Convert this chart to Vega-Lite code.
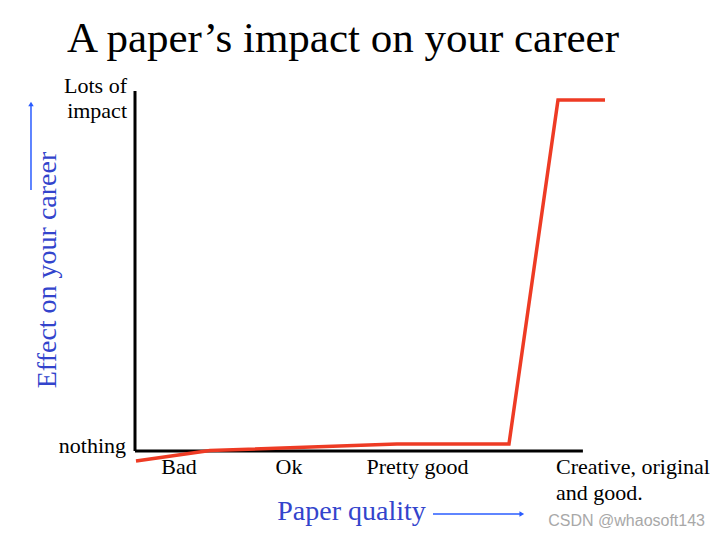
{
  "$schema": "https://vega.github.io/schema/vega-lite/v6.json",
  "width": 470,
  "height": 351,
  "autosize": {"type": "none"},
  "padding": {"left": 135, "top": 100, "right": 115, "bottom": 86},
  "background": "white",
  "config": {"view": {"stroke": null}},
  "datasets": {
    "curve": [
      {"q": 0.021, "impact": -2.85},
      {"q": 1.596, "impact": 0.14},
      {"q": 5.574, "impact": 1.99},
      {"q": 7.957, "impact": 1.99},
      {"q": 9.0, "impact": 100},
      {"q": 10.0, "impact": 100}
    ],
    "axes": [
      {"x": 0, "x2": 0, "y": 0, "y2": 102.56},
      {"x": 0, "x2": 9.53, "y": 0, "y2": 0}
    ],
    "title": [{"x": -1.447, "y": 113.76, "text": "A paper’s impact on your career"}],
    "ylabels": [
      {"x": -0.17, "y": 101.9, "text": "Lots of"},
      {"x": -0.17, "y": 94.96, "text": "impact"},
      {"x": -0.19, "y": -0.43, "text": "nothing"}
    ],
    "xlabels": [
      {"x": 0.936, "y": -6.55, "text": "Bad"},
      {"x": 3.277, "y": -6.55, "text": "Ok"},
      {"x": 6.011, "y": -6.55, "text": "Pretty good"}
    ],
    "xlabelsLeft": [
      {"x": 8.957, "y": -6.55, "text": "Creative, original"},
      {"x": 8.957, "y": -13.96, "text": "and good."}
    ],
    "xtitle": [{"x": 4.606, "y": -19.66, "text": "Paper quality"}],
    "ytitle": [{"x": -1.681, "y": 51.57, "text": "Effect on your career"}],
    "arrowLines": [
      {"x": 6.34, "x2": 8.2, "y": -17.95, "y2": -17.95},
      {"x": -2.213, "x2": -2.213, "y": 74.36, "y2": 98.5}
    ],
    "arrowHeadsRight": [{"x": 8.23, "y": -17.95}],
    "arrowHeadsUp": [{"x": -2.213, "y": 98.86}],
    "watermark": [{"x": 12.128, "y": -21.37, "text": "CSDN @whaosoft143"}]
  },
  "layer": [
    {
      "data": {"name": "axes"},
      "mark": {"type": "rule", "color": "black", "strokeWidth": 3},
      "encoding": {
        "x": {"field": "x", "type": "quantitative", "scale": {"domain": [0, 10], "nice": false, "zero": false}, "axis": null},
        "x2": {"field": "x2"},
        "y": {"field": "y", "type": "quantitative", "scale": {"domain": [0, 100], "nice": false, "zero": false}, "axis": null},
        "y2": {"field": "y2"}
      }
    },
    {
      "data": {"name": "curve"},
      "mark": {"type": "line", "color": "#ee3b24", "strokeWidth": 3.5, "strokeJoin": "miter"},
      "encoding": {
        "x": {"field": "q", "type": "quantitative", "scale": {"domain": [0, 10], "nice": false, "zero": false}, "axis": null},
        "y": {"field": "impact", "type": "quantitative", "scale": {"domain": [0, 100], "nice": false, "zero": false}, "axis": null},
        "order": {"field": "q"}
      }
    },
    {
      "data": {"name": "title"},
      "mark": {"type": "text", "font": "Liberation Serif", "fontSize": 43, "align": "left", "baseline": "alphabetic", "color": "black"},
      "encoding": {
        "x": {"field": "x", "type": "quantitative", "scale": {"domain": [0, 10], "nice": false, "zero": false}, "axis": null},
        "y": {"field": "y", "type": "quantitative", "scale": {"domain": [0, 100], "nice": false, "zero": false}, "axis": null},
        "text": {"field": "text"}
      }
    },
    {
      "data": {"name": "ylabels"},
      "mark": {"type": "text", "font": "Liberation Serif", "fontSize": 22, "align": "right", "baseline": "alphabetic", "color": "black"},
      "encoding": {
        "x": {"field": "x", "type": "quantitative", "scale": {"domain": [0, 10], "nice": false, "zero": false}, "axis": null},
        "y": {"field": "y", "type": "quantitative", "scale": {"domain": [0, 100], "nice": false, "zero": false}, "axis": null},
        "text": {"field": "text"}
      }
    },
    {
      "data": {"name": "xlabels"},
      "mark": {"type": "text", "font": "Liberation Serif", "fontSize": 22, "align": "center", "baseline": "alphabetic", "color": "black"},
      "encoding": {
        "x": {"field": "x", "type": "quantitative", "scale": {"domain": [0, 10], "nice": false, "zero": false}, "axis": null},
        "y": {"field": "y", "type": "quantitative", "scale": {"domain": [0, 100], "nice": false, "zero": false}, "axis": null},
        "text": {"field": "text"}
      }
    },
    {
      "data": {"name": "xlabelsLeft"},
      "mark": {"type": "text", "font": "Liberation Serif", "fontSize": 22, "align": "left", "baseline": "alphabetic", "color": "black"},
      "encoding": {
        "x": {"field": "x", "type": "quantitative", "scale": {"domain": [0, 10], "nice": false, "zero": false}, "axis": null},
        "y": {"field": "y", "type": "quantitative", "scale": {"domain": [0, 100], "nice": false, "zero": false}, "axis": null},
        "text": {"field": "text"}
      }
    },
    {
      "data": {"name": "xtitle"},
      "mark": {"type": "text", "font": "Liberation Serif", "fontSize": 28, "align": "center", "baseline": "alphabetic", "color": "#3344cc"},
      "encoding": {
        "x": {"field": "x", "type": "quantitative", "scale": {"domain": [0, 10], "nice": false, "zero": false}, "axis": null},
        "y": {"field": "y", "type": "quantitative", "scale": {"domain": [0, 100], "nice": false, "zero": false}, "axis": null},
        "text": {"field": "text"}
      }
    },
    {
      "data": {"name": "ytitle"},
      "mark": {"type": "text", "font": "Liberation Serif", "fontSize": 28, "align": "center", "baseline": "alphabetic", "angle": 270, "color": "#3344cc"},
      "encoding": {
        "x": {"field": "x", "type": "quantitative", "scale": {"domain": [0, 10], "nice": false, "zero": false}, "axis": null},
        "y": {"field": "y", "type": "quantitative", "scale": {"domain": [0, 100], "nice": false, "zero": false}, "axis": null},
        "text": {"field": "text"}
      }
    },
    {
      "data": {"name": "arrowLines"},
      "mark": {"type": "rule", "color": "#2a5cff", "strokeWidth": 1.5},
      "encoding": {
        "x": {"field": "x", "type": "quantitative", "scale": {"domain": [0, 10], "nice": false, "zero": false}, "axis": null},
        "x2": {"field": "x2"},
        "y": {"field": "y", "type": "quantitative", "scale": {"domain": [0, 100], "nice": false, "zero": false}, "axis": null},
        "y2": {"field": "y2"}
      }
    },
    {
      "data": {"name": "arrowHeadsRight"},
      "mark": {"type": "point", "shape": "triangle-right", "filled": true, "size": 30, "color": "#2a5cff", "opacity": 1},
      "encoding": {
        "x": {"field": "x", "type": "quantitative", "scale": {"domain": [0, 10], "nice": false, "zero": false}, "axis": null},
        "y": {"field": "y", "type": "quantitative", "scale": {"domain": [0, 100], "nice": false, "zero": false}, "axis": null}
      }
    },
    {
      "data": {"name": "arrowHeadsUp"},
      "mark": {"type": "point", "shape": "triangle-up", "filled": true, "size": 30, "color": "#2a5cff", "opacity": 1},
      "encoding": {
        "x": {"field": "x", "type": "quantitative", "scale": {"domain": [0, 10], "nice": false, "zero": false}, "axis": null},
        "y": {"field": "y", "type": "quantitative", "scale": {"domain": [0, 100], "nice": false, "zero": false}, "axis": null}
      }
    },
    {
      "data": {"name": "watermark"},
      "mark": {"type": "text", "font": "Liberation Sans", "fontSize": 16, "align": "right", "baseline": "alphabetic", "color": "#a8a8a8"},
      "encoding": {
        "x": {"field": "x", "type": "quantitative", "scale": {"domain": [0, 10], "nice": false, "zero": false}, "axis": null},
        "y": {"field": "y", "type": "quantitative", "scale": {"domain": [0, 100], "nice": false, "zero": false}, "axis": null},
        "text": {"field": "text"}
      }
    }
  ]
}
